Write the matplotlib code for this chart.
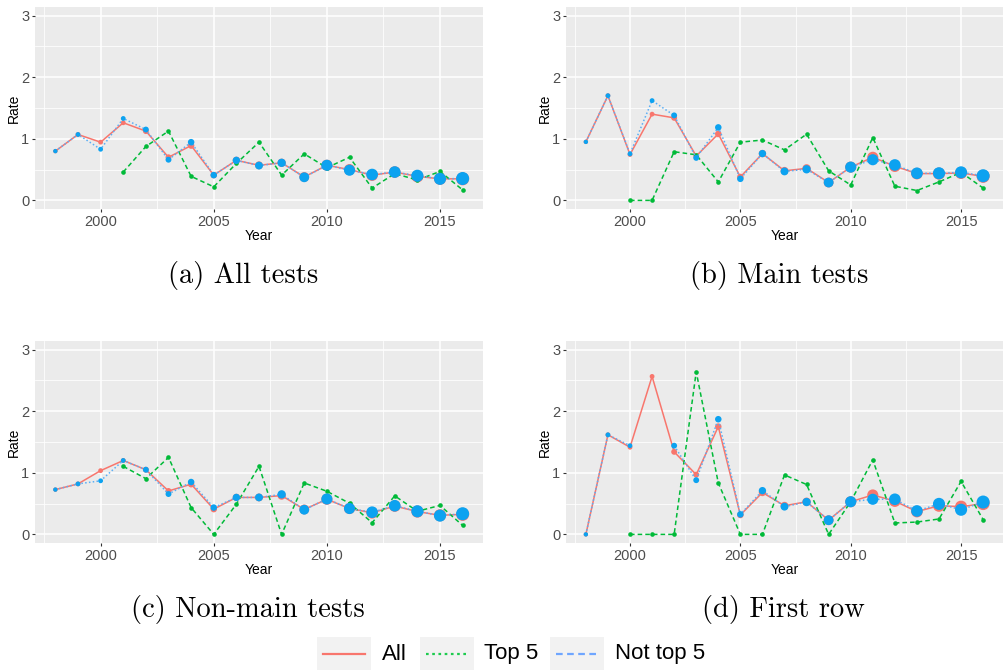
import matplotlib
matplotlib.use("Agg")
import matplotlib.pyplot as plt
import numpy as np
from matplotlib.lines import Line2D
from matplotlib.patches import Rectangle

nan = np.nan
years = list(range(1998, 2017))

# number of tests per year (drives point size)
n_tests = [5, 6, 6, 6, 9, 9, 11, 11, 14, 16, 18, 25, 32, 32, 35, 35, 38, 38, 44]

# (a) All tests
a_all  = [0.80, 1.07, 0.945, 1.26, 1.125, 0.70, 0.89, 0.41, 0.65, 0.57, 0.61, 0.38, 0.57, 0.50, 0.41, 0.46, 0.39, 0.35, 0.35]
a_top5 = [nan, nan, nan, 0.46, 0.875, 1.125, 0.39, 0.22, 0.60, 0.945, 0.41, 0.755, 0.53, 0.70, 0.20, 0.435, 0.33, 0.47, 0.17]
a_rest = [0.80, 1.07, 0.83, 1.33, 1.15, 0.66, 0.945, 0.41, 0.65, 0.565, 0.61, 0.375, 0.57, 0.49, 0.42, 0.46, 0.40, 0.35, 0.355]

# (b) Main tests
b_all  = [0.95, 1.70, 0.745, 1.40, 1.34, 0.72, 1.08, 0.38, 0.76, 0.48, 0.52, 0.29, 0.54, 0.70, 0.555, 0.435, 0.435, 0.445, 0.39]
b_top5 = [nan, nan, 0.0, 0.0, 0.79, 0.74, 0.30, 0.945, 0.98, 0.82, 1.075, 0.48, 0.25, 1.02, 0.23, 0.16, 0.30, 0.455, 0.20]
b_rest = [0.95, 1.70, 0.755, 1.62, 1.38, 0.69, 1.185, 0.35, 0.76, 0.47, 0.505, 0.29, 0.54, 0.66, 0.575, 0.44, 0.44, 0.455, 0.40]

# (c) Non-main tests
c_all  = [0.727, 0.82, 1.035, 1.20, 1.05, 0.705, 0.815, 0.41, 0.60, 0.60, 0.63, 0.405, 0.57, 0.42, 0.35, 0.46, 0.37, 0.31, 0.325]
c_top5 = [nan, nan, nan, 1.105, 0.905, 1.25, 0.435, 0.0, 0.49, 1.105, 0.0, 0.835, 0.70, 0.505, 0.19, 0.625, 0.375, 0.47, 0.145]
c_rest = [0.727, 0.82, 0.87, 1.20, 1.05, 0.655, 0.85, 0.435, 0.60, 0.60, 0.65, 0.40, 0.575, 0.42, 0.36, 0.465, 0.375, 0.305, 0.335]

# (d) First row
d_all  = [0.0, 1.617, 1.415, 2.565, 1.34, 0.97, 1.75, 0.315, 0.68, 0.465, 0.53, 0.23, 0.53, 0.64, 0.54, 0.37, 0.465, 0.45, 0.50]
d_top5 = [nan, nan, 0.0, 0.0, 0.0, 2.64, 0.835, 0.0, 0.0, 0.965, 0.81, 0.0, 0.53, 1.21, 0.185, 0.20, 0.25, 0.86, 0.24]
d_rest = [0.0, 1.617, 1.44, nan, 1.44, 0.88, 1.87, 0.325, 0.71, 0.45, 0.525, 0.23, 0.53, 0.57, 0.57, 0.38, 0.495, 0.40, 0.525]

captions = ["(a) All tests", "(b) Main tests", "(c) Non-main tests", "(d) First row"]

RED = "#F8766D"
GREEN = "#00BA38"
BLUE_LINE = "#5AAEF5"
BLUE_PT = "#0CA2F0"

plt.rcParams["font.family"] = ["Liberation Sans", "DejaVu Sans"]

fig = plt.figure(figsize=(10.06, 6.70), dpi=100)
W, H = 1006, 670


def px_axes(left, top, right, bottom):
    return fig.add_axes([left / W, 1 - bottom / H, (right - left) / W, (bottom - top) / H])


def series(ax, vals, color, ls, zo, sizes=None, pcolor=None):
    x = np.array(years, dtype=float)
    y = np.array(vals, dtype=float)
    ok = ~np.isnan(y)
    # gaps in the middle of a series break the line
    ax.plot(x, y, color=color, ls=ls, lw=1.1, zorder=zo)
    if sizes is None:
        s = 11
    else:
        s = np.array(sizes)[ok] * 2.0
    ax.scatter(x[ok], y[ok], s=s, color=pcolor or color, lw=0, zorder=zo + 0.5)


def panel(ax, v_all, v_top, v_rest):
    ax.set_facecolor("#EBEBEB")
    for sp in ax.spines.values():
        sp.set_visible(False)
    ax.set_xlim(1997.1, 2016.9)
    ax.set_ylim(-0.14, 3.14)
    ax.set_xticks([2000, 2005, 2010, 2015])
    ax.set_xticks([1997.5, 2002.5, 2007.5, 2012.5], minor=True)
    ax.set_yticks([0, 1, 2, 3])
    ax.set_yticks([0.5, 1.5, 2.5], minor=True)
    ax.grid(which="major", color="white", lw=1.1)
    ax.grid(which="minor", color="white", lw=0.55)
    ax.set_axisbelow(True)
    ax.tick_params(which="major", length=2.5, width=0.8, color="#333333",
                   labelcolor="#4D4D4D", labelsize=10.5, pad=1.5)
    ax.tick_params(which="minor", length=0)
    ax.set_xlabel("Year", fontsize=10, labelpad=0)
    ax.set_ylabel("Rate", fontsize=10, labelpad=0.5)

    series(ax, v_all, RED, "-", 3, sizes=n_tests)
    series(ax, v_top, GREEN, (0, (3, 2)), 4)
    series(ax, v_rest, BLUE_LINE, (0, (1, 1.5)), 5, sizes=n_tests, pcolor=BLUE_PT)


ax_a = px_axes(35, 7, 483, 209)
ax_b = px_axes(566, 7, 1003, 209)
ax_c = px_axes(35, 341, 483, 543)
ax_d = px_axes(566, 341, 1003, 543)

panel(ax_a, a_all, a_top5, a_rest)
panel(ax_b, b_all, b_top5, b_rest)
panel(ax_c, c_all, c_top5, c_rest)
panel(ax_d, d_all, d_top5, d_rest)

# subfigure captions
cap_pos = [(243, 276), (779, 276), (248, 609), (783, 609)]
for (cx, cy), txt in zip(cap_pos, captions):
    fig.text(cx / W, 1 - cy / H, txt, family="cmr10", fontsize=20.5,
             ha="center", va="center")

# shared legend along the bottom
legend_items = [
    ("All", RED, "-", 317, 382),
    ("Top 5", "#1DCB4E", (0, (1.2, 1.6)), 420, 484),
    ("Not top 5", "#6FA6FF", (0, (3, 2)), 550, 615),
]
for label, col, ls, kx, tx in legend_items:
    fig.add_artist(Rectangle((kx / W, 1 - 670 / H), 54 / W, 33 / H,
                             transform=fig.transFigure, facecolor="#F2F2F2",
                             edgecolor="none"))
    fig.add_artist(Line2D([(kx + 6) / W, (kx + 48) / W], [1 - 654 / H] * 2,
                          transform=fig.transFigure, color=col, ls=ls, lw=1.6))
    fig.text(tx / W, 1 - 654 / H, label, fontsize=16, ha="left", va="center")

fig.savefig("out.png", dpi=100)
